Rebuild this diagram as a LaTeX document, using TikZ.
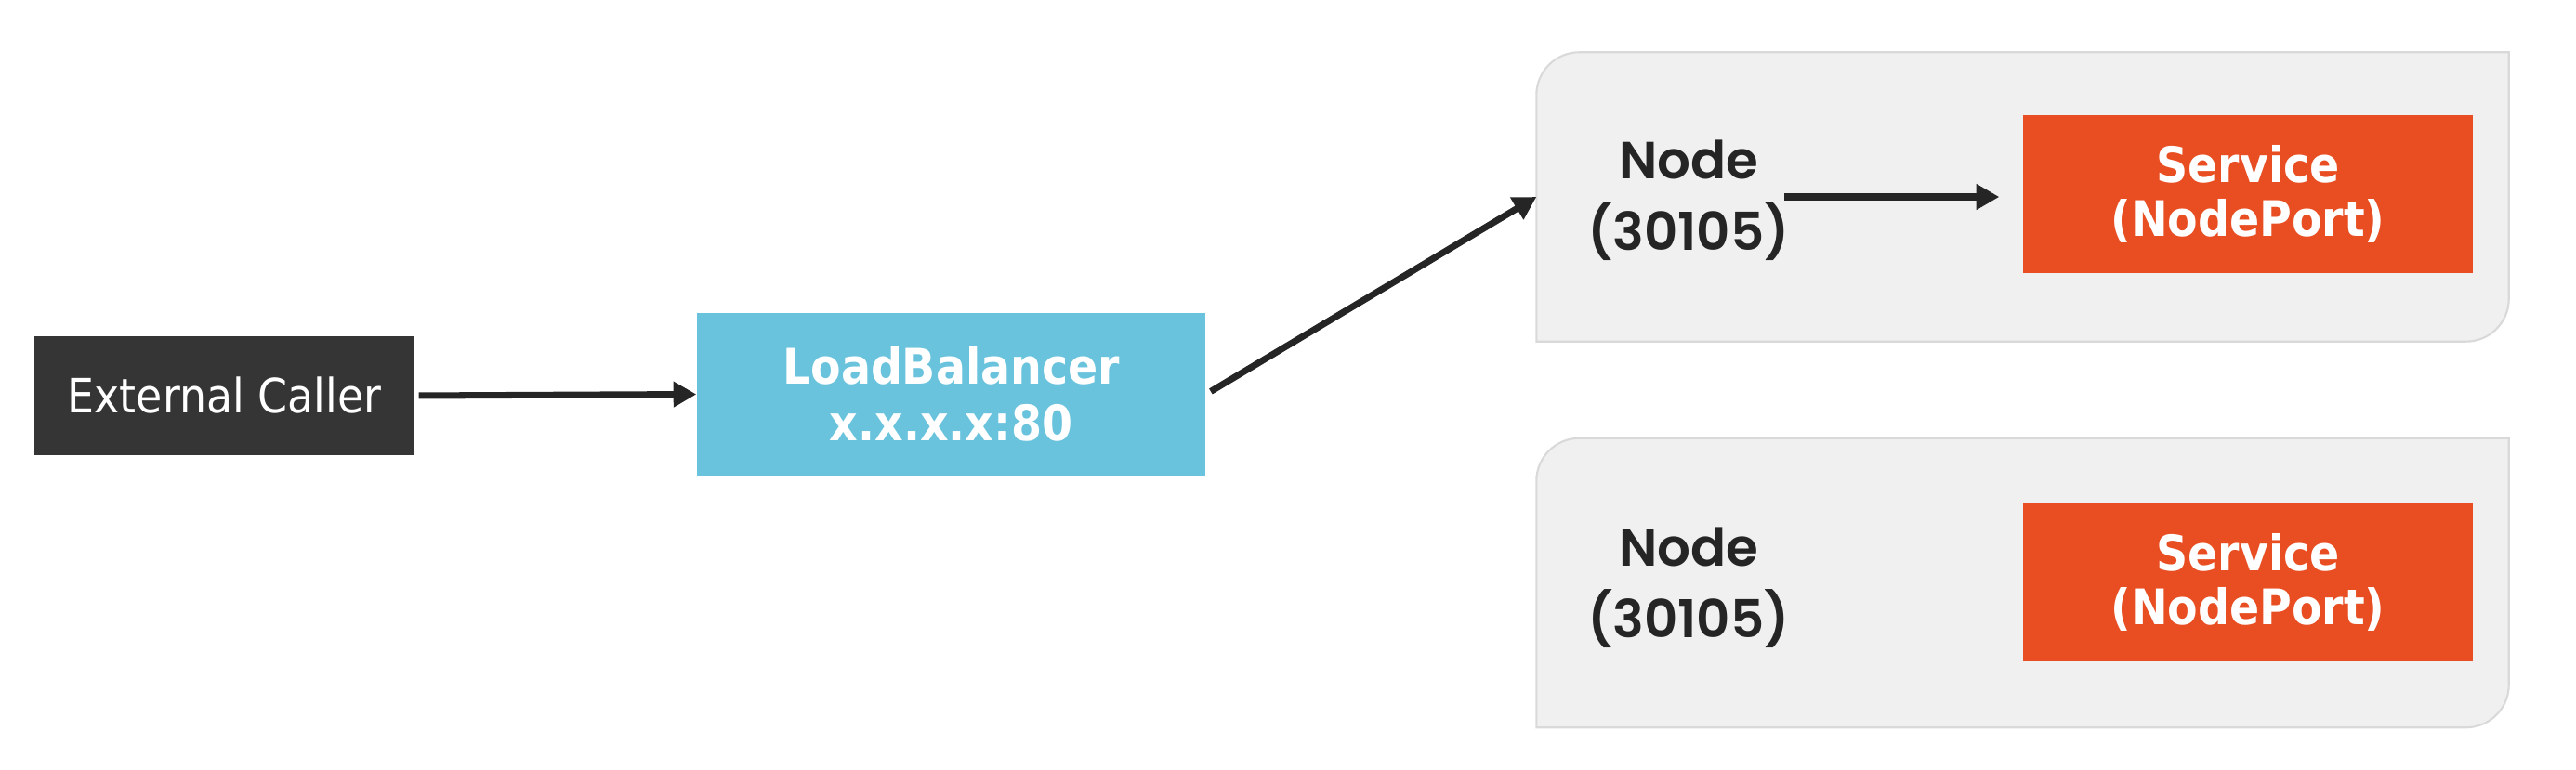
\documentclass[tikz,border=0pt]{standalone}
\usepackage{fontspec}
\setmainfont{DejaVu Sans}
\newfontfamily\condfont{DejaVu Sans Condensed}
\newfontfamily\geofont{Poppins SemiBold}
\usetikzlibrary{arrows.meta}

\definecolor{callergray}{HTML}{353535}
\definecolor{lbblue}{HTML}{69C3DD}
\definecolor{svcorange}{HTML}{E84E21}
\definecolor{hostfill}{HTML}{F0F0F0}
\definecolor{hostline}{HTML}{D9D9D9}
\definecolor{inkgray}{HTML}{252525}

\tikzset{
  box/.style={inner sep=0pt, text=white, align=center},
  caller/.style={box, fill=callergray, minimum width=4.09cm, minimum height=1.28cm,
    font=\condfont\fontsize{14.5}{17}\selectfont},
  lb/.style={box, fill=lbblue, minimum width=5.47cm, minimum height=1.75cm,
    font=\condfont\bfseries\fontsize{15}{17.4}\selectfont},
  svc/.style={box, fill=svcorange, minimum width=4.84cm, minimum height=1.70cm,
    font=\condfont\bfseries\fontsize{15}{16.5}\selectfont},
  host/.style={minimum width=10.45cm, minimum height=3.1cm, inner sep=0pt},
  hostlabel/.style={align=center, text=inkgray, inner sep=0pt,
    font=\geofont\fontsize{16}{21.8}\selectfont},
  link/.style={draw=inkgray, line width=2pt, -{Triangle[length=7pt,width=7.5pt]}},
}

% grey node frame, round corners top left and bottom right
\newcommand{\hostframe}[1]{%
  \draw[hostline, fill=hostfill, line width=0.6pt]
    (#1.south west) -- ([yshift=-0.46cm]#1.north west)
    arc[start angle=180, end angle=90, radius=0.46cm]
    -- (#1.north east) -- ([yshift=0.46cm]#1.south east)
    arc[start angle=0, end angle=-90, radius=0.46cm] -- cycle;}

\begin{document}
\begin{tikzpicture}
  \useasboundingbox (0,0) rectangle (27.72,8.28);

  \node[host] (host1) at (21.765,6.16) {};
  \node[host] (host2) at (21.765,2.005) {};
  \hostframe{host1}
  \hostframe{host2}

  \node[caller] (caller) at (2.415,4.02) {External Caller};
  \node[lb] (lb) at (10.235,4.035) {LoadBalancer\\x.x.x.x:80};

  \node[hostlabel] (label1) at (18.17,6.12) {Node\\(30105)};
  \node[hostlabel] (label2) at (18.17,1.95) {Node\\(30105)};
  \node[svc] (svc1) at (24.19,6.19) {Service\\(NodePort)};
  \node[svc] (svc2) at (24.19,2.01) {Service\\(NodePort)};
  \coordinate (out1) at (19.2,6.16);

  \draw[link, shorten <=0.04cm] (caller.east) -- (lb.west);
  \draw[link, shorten <=0.06cm] (lb.east) -- (host1.west);
  \draw[link, shorten >=0.25cm] (out1) -- (svc1.west |- out1);
\end{tikzpicture}
\end{document}
